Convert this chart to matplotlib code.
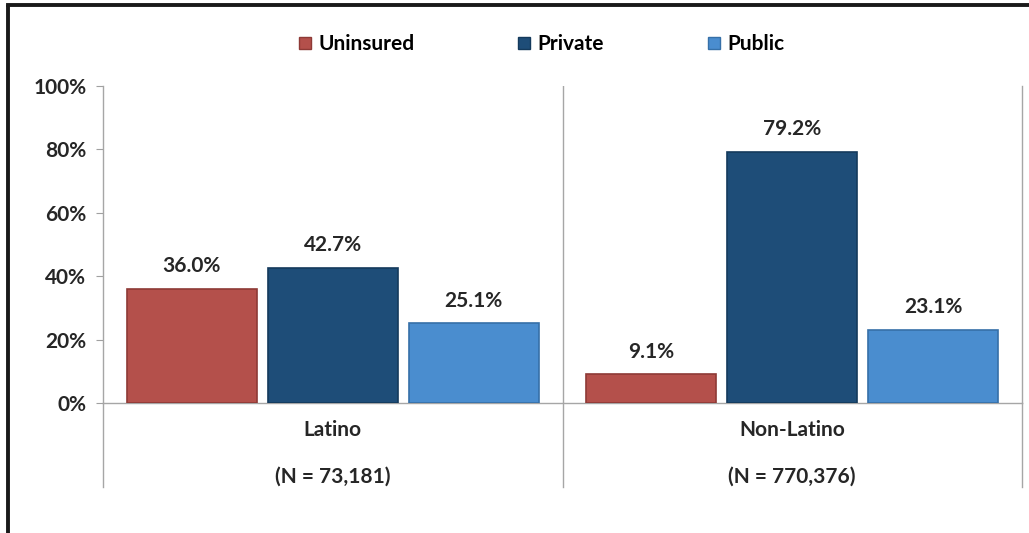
import matplotlib
matplotlib.use("Agg")
import matplotlib.pyplot as plt
from matplotlib.lines import Line2D
import numpy as np

plt.rcParams['font.family'] = ['Lato', 'DejaVu Sans']

groups = ["Latino", "Non-Latino"]
group_n = ["(N = 73,181)", "(N = 770,376)"]
series = ["Uninsured", "Private", "Public"]
values = {
    "Uninsured": [36.0, 9.1],
    "Private": [42.7, 79.2],
    "Public": [25.1, 23.1],
}
colors = {"Uninsured": "#B4504B", "Private": "#1E4D78", "Public": "#4A8DCF"}
edges = {"Uninsured": "#8E3A36", "Private": "#143A5C", "Public": "#3670A8"}
yticks = [0, 20, 40, 60, 80, 100]

FS = 15
W, H = 1029, 533
fig = plt.figure(figsize=(W / 100, H / 100), dpi=100)
ax = fig.add_axes([103 / W, 1 - 403 / H, (1022 - 103) / W, (403 - 86) / H])

x = np.arange(len(groups))
offsets = [-0.307, 0.0, 0.307]
bw = 0.283
for s, off in zip(series, offsets):
    bars = ax.bar(x + off, values[s], width=bw, color=colors[s],
                  edgecolor=edges[s], linewidth=1.2, zorder=3)
    for b, v in zip(bars, values[s]):
        ax.annotate(f"{v:.1f}%", (b.get_x() + b.get_width() / 2, v),
                    xytext=(0, 9), textcoords="offset points",
                    ha="center", va="bottom", fontsize=FS,
                    fontweight="bold", color="#262626")

ax.set_xlim(-0.5, 1.5)
ax.set_ylim(0, 100)
ax.set_yticks(yticks)
ax.set_yticklabels([f"{t}%" for t in yticks], fontsize=FS,
                   fontweight="bold", color="#262626")
ax.tick_params(axis="y", length=5, color="#A0A0A0", pad=7)
ax.set_xticks([])

ax.spines["top"].set_visible(False)
for sp in ["left", "right", "bottom"]:
    ax.spines[sp].set_color("#A6A6A6")
    ax.spines[sp].set_linewidth(1)

ax.axvline(0.5, color="#A6A6A6", lw=1, zorder=1)
ext = -(487 - 403) / (403 - 86)
trans = ax.get_xaxis_transform()
for xb in [-0.5, 0.5, 1.5]:
    ax.plot([xb, xb], [0, ext], transform=trans, color="#A6A6A6",
            lw=1, clip_on=False)

for i, (g, n) in enumerate(zip(groups, group_n)):
    ax.text(i, -(430 - 403) / 317, g, transform=trans, ha="center",
            va="center", fontsize=FS, fontweight="bold", color="#262626")
    ax.text(i, -(477 - 403) / 317, n, transform=trans, ha="center",
            va="center", fontsize=FS, fontweight="bold", color="#262626")

handles = [Line2D([], [], marker="s", linestyle="none", markersize=8,
                  markerfacecolor=colors[s], markeredgecolor=edges[s])
           for s in series]
fig.legend(handles, series, loc="center", bbox_to_anchor=(542 / W, 1 - 44 / H),
           ncol=3, frameon=False, handlelength=0.5,
           handletextpad=0.4, columnspacing=5.0,
           prop={"weight": "bold", "size": FS})

# black frame on left and top
fig.add_artist(Line2D([8 / W, 8 / W], [0, 1 - 5 / H], transform=fig.transFigure,
                      color="#1A1A1A", lw=2.8, solid_capstyle="butt"))
fig.add_artist(Line2D([8 / W, 1], [1 - 5 / H, 1 - 5 / H], transform=fig.transFigure,
                      color="#1A1A1A", lw=2.8, solid_capstyle="projecting"))

fig.savefig("out.png", dpi=100)
